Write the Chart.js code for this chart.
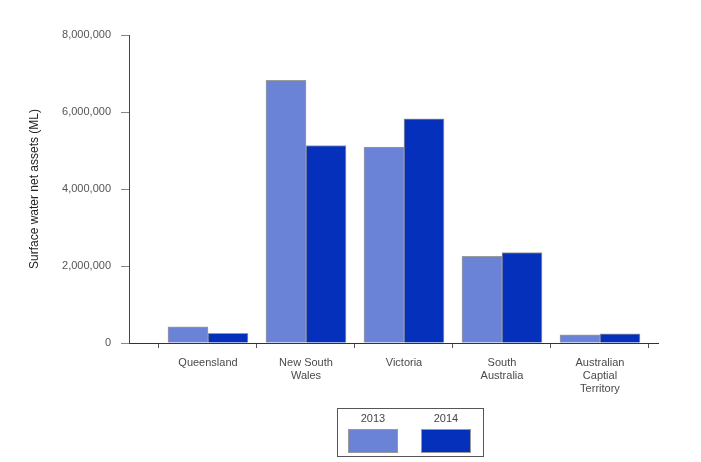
<!DOCTYPE html>
<html>
<head>
<meta charset="utf-8">
<script src="https://cdn.jsdelivr.net/npm/chart.js@4/dist/chart.umd.min.js"></script>
<style>
  html, body { margin: 0; padding: 0; background: #fff; }
  #wrap { position: relative; width: 701px; height: 462px; }
  #legend {
    position: absolute; left: 337px; top: 408px; width: 145px; height: 47px;
    border: 1px solid #555; font-family: "Liberation Sans", Arial, sans-serif;
    font-size: 11px; color: #444;
  }
  .item { position: absolute; top: 3px; width: 50px; text-align: center; }
  .item span { display: block; height: 13px; line-height: 13px; }
  .swatch { margin-top: 4px; width: 48px; height: 22px; border: 1px solid #999; }
</style>
</head>
<body>
<div id="wrap">
  <canvas id="chart" width="701" height="462"></canvas>
  <div id="legend"></div>
</div>
<script>
// donnees
const states = [
  ['Queensland'],
  ['New South', 'Wales'],
  ['Victoria'],
  ['South', 'Australia'],
  ['Australian', 'Captial', 'Territory']
]
const years = ['2013', '2014']
const assets2013 = [420000, 6820000, 5090000, 2250000, 210000]
const assets2014 = [250000, 5130000, 5820000, 2350000, 240000]
const yTicks = [0, 2000000, 4000000, 6000000, 8000000]
const colors = ['#6a83d6', '#0530bb']

// les barres sont placees au milieu de chaque categorie
const toPoints = arr => arr.map((v, i) => ({ x: i + 0.5, y: v }))

const font = { family: 'Liberation Sans, Arial, sans-serif', size: 11 }

const chart = new Chart(document.getElementById('chart'), {
  type: 'bar',
  data: {
    datasets: [
      { label: years[0], data: toPoints(assets2013), backgroundColor: colors[0] },
      { label: years[1], data: toPoints(assets2014), backgroundColor: colors[1] }
    ]
  },
  options: {
    responsive: false,
    animation: false,
    layout: { padding: { top: 35, right: 43, bottom: 0, left: 0 } },
    datasets: {
      bar: { barThickness: 40, borderColor: '#9a9a9a', borderWidth: 1 }
    },
    plugins: { legend: { display: false }, tooltip: { enabled: false } },
    scales: {
      x: {
        type: 'linear',
        offset: false,
        min: -0.306,
        max: 5.092,
        afterBuildTicks: s => {
          // une graduation entre chaque categorie, une etiquette au centre
          const t = []
          for (let i = 0; i <= states.length * 2; i++) t.push({ value: i / 2 })
          s.ticks = t
        },
        afterFit: s => { s.height = 119 },
        ticks: {
          autoSkip: false,
          maxRotation: 0,
          padding: 8,
          color: '#4a4a4a',
          font: font,
          callback: v => (v % 1 === 0.5 ? states[Math.floor(v)] : '')
        },
        grid: {
          offset: false,
          drawOnChartArea: false,
          tickLength: 5,
          tickColor: c => (c.tick && c.tick.value % 1 === 0 ? '#555' : 'rgba(0,0,0,0)')
        },
        border: { color: '#333' }
      },
      y: {
        min: 0,
        max: 8000000,
        afterBuildTicks: s => { s.ticks = yTicks.map(v => ({ value: v })) },
        afterFit: s => { s.width = 129 },
        ticks: {
          padding: 10,
          color: '#555',
          font: font,
          callback: v => v.toLocaleString('en-US')
        },
        grid: { drawOnChartArea: false, tickLength: 8, tickColor: '#888' },
        border: { color: '#444' },
        title: {
          display: true,
          text: 'Surface water net assets (ML)',
          color: '#222',
          font: { family: font.family, size: 12 },
          padding: { top: 27, bottom: 0 }
        }
      }
    }
  }
})

// legende maison : annee au-dessus de la couleur
const legend = document.getElementById('legend')
chart.data.datasets.forEach((ds, i) => {
  const item = document.createElement('div')
  item.className = 'item'
  item.style.left = (10 + i * 73) + 'px'
  item.innerHTML = '<span>' + ds.label + '</span><div class="swatch"></div>'
  item.querySelector('.swatch').style.background = ds.backgroundColor
  legend.appendChild(item)
})
</script>
</body>
</html>
